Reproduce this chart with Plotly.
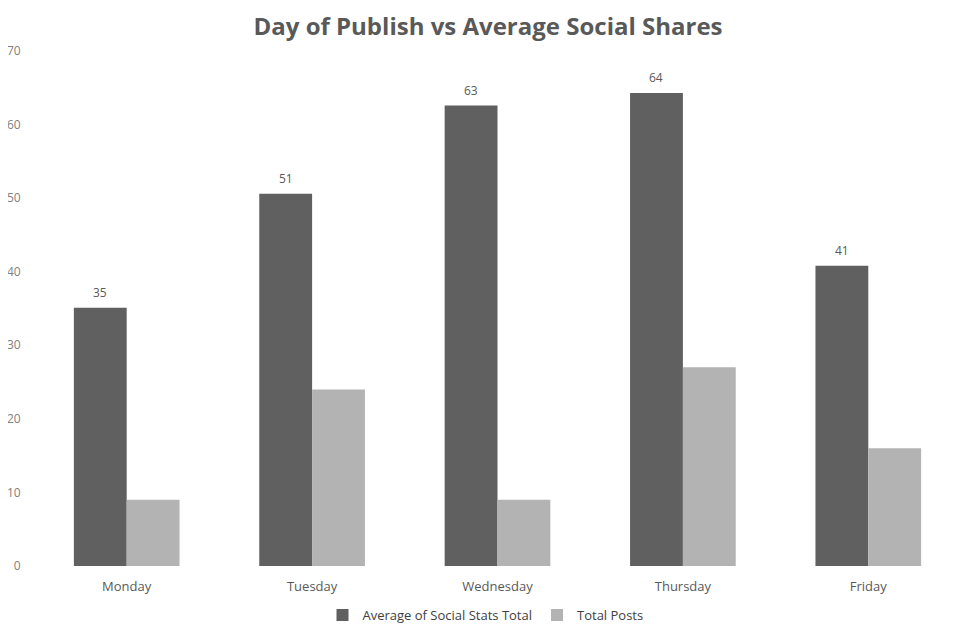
import plotly.graph_objects as go

days = ["Monday", "Tuesday", "Wednesday", "Thursday", "Friday"]
avg_social = [35.1, 50.6, 62.6, 64.3, 40.8]
total_posts = [9, 24, 9, 27, 16]
y_ticks = [0, 10, 20, 30, 40, 50, 60, 70]

FONT = "Open Sans"
W, H = 960, 621

fig = go.Figure()
fig.add_trace(go.Bar(
    x=days, y=avg_social, name="Average of Social Stats Total",
    marker=dict(color="#606060", line=dict(width=0)),
))
fig.add_trace(go.Bar(
    x=days, y=total_posts, name="Total Posts",
    marker=dict(color="#b3b3b3", line=dict(width=0)),
))

for i, (d, v) in enumerate(zip(days, avg_social)):
    fig.add_annotation(
        x=d, y=v, text=f"{round(v)}", showarrow=False,
        xref="x", yref="y", xshift=-26.5, yshift=15,
        font=dict(family=FONT, size=12, color="#595959"),
    )

fig.update_layout(
    width=W, height=H,
    margin=dict(l=26, r=7, t=43, b=63, autoexpand=False),
    paper_bgcolor="white", plot_bgcolor="white",
    barmode="group", bargap=0.43, bargroupgap=0,
    title=dict(text="<b>Day of Publish vs Average Social Shares</b>",
               x=0.5, xanchor="center", y=1 - 19 / H, yanchor="middle",
               font=dict(family=FONT, size=24, color="#595959")),
    font=dict(family=FONT, color="#595959"),
    showlegend=True,
    legend=dict(orientation="h", x=0.5 - 12 / 927, xanchor="center", y=-49 / 515, yanchor="middle",
                font=dict(family=FONT, size=13, color="#404040"),
                itemwidth=30, tracegroupgap=0),
    xaxis=dict(showgrid=False, showline=False, zeroline=False,
               ticks="outside", ticklen=8, tickcolor="rgba(0,0,0,0)",
               tickfont=dict(family=FONT, size=13, color="#595959")),
    yaxis=dict(range=[0, 70], tickvals=y_ticks, showgrid=False, showline=False,
               zeroline=False, ticks="outside", ticklen=10, tickcolor="rgba(0,0,0,0)",
               tickfont=dict(family=FONT, size=12, color="#808080")),
)

fig.write_html("out.html")
